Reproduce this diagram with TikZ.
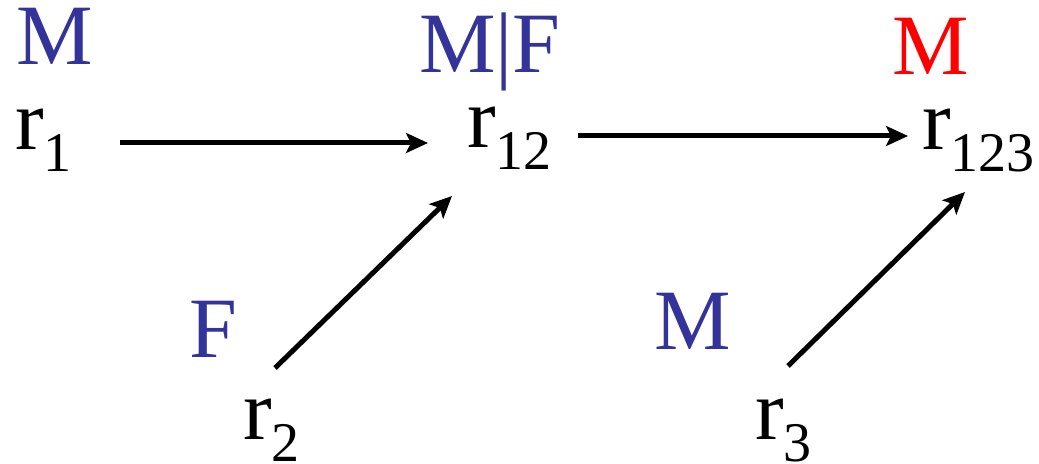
\documentclass[tikz,border=0pt]{standalone}
\usepackage{fontspec}
\setmainfont{Liberation Serif}
\newfontfamily\tms{Liberation Serif}
\usetikzlibrary{arrows.meta}
\definecolor{lblue}{RGB}{51,51,153}
\definecolor{lred}{RGB}{255,0,0}
\newcommand{\rsub}[1]{r\raisebox{-11pt}{\fontsize{28}{28}\selectfont #1}}
\tikzset{
  main/.style={inner sep=0pt, outer sep=0pt, anchor=base west, font=\tms\fontsize{43}{43}\selectfont},
  lab/.style={main, text=lblue},
  arr/.style={line width=2.5pt, -{Stealth[length=11pt,width=10pt,inset=2.5pt]}},
}
\begin{document}
\begin{tikzpicture}[x=0.5pt,y=-0.5pt]
\useasboundingbox (0,0) rectangle (1039,464);
% labels
\node[lab] (lM1) at (17,65) {M};
\node[lab] (lMF) at (419,73) {M|F};
\node[main, text=lred] (lM3) at (892,75) {M};
\node[lab] (lF) at (189,358) {F};
\node[lab] (lM2) at (654,350) {M};
% variables
\node[main] (r1) at (15,150) {\rsub{1}};
\node[main] (r12) at (467,148) {\rsub{12}};
\node[main] (r123) at (922,150) {\rsub{123}};
\node[main] (r2) at (243,440) {\rsub{2}};
\node[main] (r3) at (755,440) {\rsub{3}};
% connector ends
\coordinate (a1s) at (120,143);
\coordinate (a1e) at (428,143);
\coordinate (a2s) at (578,136);
\coordinate (a2e) at (908,136);
\coordinate (a3s) at (275,368);
\coordinate (a3e) at (452,196);
\coordinate (a4s) at (788,366);
\coordinate (a4e) at (965,192);
\draw[arr] (a1s) -- (a1e);
\draw[arr] (a2s) -- (a2e);
\draw[arr] (a3s) -- (a3e);
\draw[arr] (a4s) -- (a4e);
\end{tikzpicture}
\end{document}
